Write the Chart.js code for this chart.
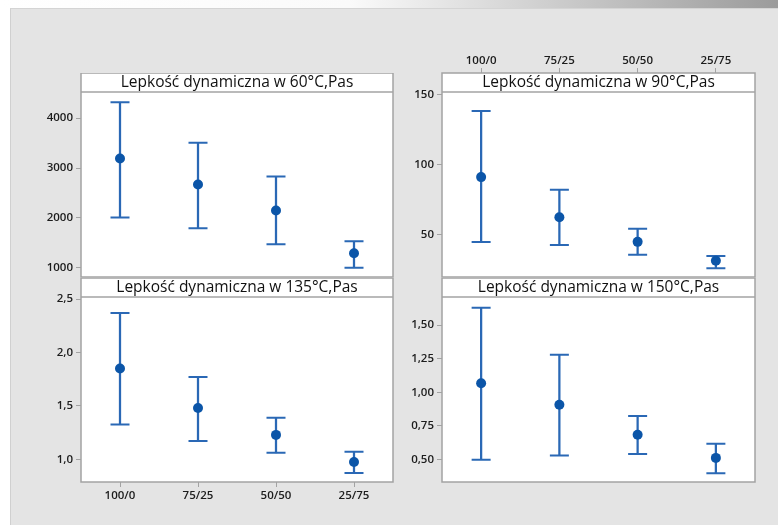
<!DOCTYPE html>
<html>
<head>
<meta charset="utf-8">
<script src="https://cdn.jsdelivr.net/npm/chart.js@4.4.0/dist/chart.umd.min.js"></script>
<style>
  html, body { margin: 0; padding: 0; background: #fff; }
  body { width: 778px; height: 525px; position: relative; overflow: hidden; }
  #shade { position: absolute; left: 0; top: 0; width: 778px; height: 8px;
           background: linear-gradient(to right, #fff 0%, #fafafa 45%, #9b9b9b 100%); }
  #sheet { position: absolute; left: 10px; top: 8px; right: 0; bottom: 0; background: #e4e4e4;
           border-left: 1px solid #d0d0d0; border-top: 1px solid #d4d4d4; }
  canvas { position: absolute; }
</style>
</head>
<body>
<div id="shade"></div>
<div id="sheet"></div>
<canvas id="p60" width="364" height="205" style="left:31px;top:73px"></canvas>
<canvas id="p90" width="365" height="233" style="left:392px;top:45px"></canvas>
<canvas id="p135" width="364" height="234" style="left:31px;top:278px"></canvas>
<canvas id="p150" width="365" height="205" style="left:392px;top:278px"></canvas>

<script>
// mieszanki (stosunek składników)
const categories = ['100/0', '75/25', '50/50', '25/75'];

// 60°C
const mean60  = [3190, 2670, 2150, 1290];
const upper60 = [4320, 3510, 2830, 1530];
const lower60 = [2010, 1790, 1470, 1000];
const ticks60 = [1000, 2000, 3000, 4000];
const range60 = [814, 4526];

// 90°C
const mean90  = [91.1, 62.3, 44.7, 31.1];
const upper90 = [138.4, 82.1, 54.0, 34.5];
const lower90 = [44.5, 42.4, 35.4, 25.7];
const ticks90 = [50, 100, 150];
const range90 = [19.5, 152.1];

// 135°C
const mean135  = [1.85, 1.48, 1.228, 0.975];
const upper135 = [2.369, 1.769, 1.388, 1.071];
const lower135 = [1.326, 1.172, 1.06, 0.872];
const ticks135 = [1.0, 1.5, 2.0, 2.5];
const range135 = [0.787, 2.519];

// 150°C
const mean150  = [1.067, 0.908, 0.685, 0.513];
const upper150 = [1.628, 1.28, 0.824, 0.619];
const lower150 = [0.5, 0.53, 0.542, 0.399];
const ticks150 = [0.5, 0.75, 1.0, 1.25, 1.5];
const range150 = [0.334, 1.708];

const HEADER = 19;
const LINE_COLOR = '#2a68b5';
const DOT_COLOR = '#0b55a8';
const FRAME_COLOR = '#a3a3a3';

Chart.defaults.font.family = "'Open Sans', 'DejaVu Sans', sans-serif";
Chart.defaults.font.size = 12;
Chart.defaults.color = '#1c1c1c';

// biała ramka panelu + pasek z tytułem nad obszarem wykresu
const panelFrame = {
  id: 'panelFrame',
  beforeDatasetsDraw(chart) {
    const { ctx, chartArea: a } = chart;
    ctx.save();
    ctx.fillStyle = '#fff';
    ctx.fillRect(a.left, a.top - HEADER, a.right - a.left, a.bottom - a.top + HEADER);
    ctx.restore();
  },
  afterDraw(chart, args, opts) {
    const { ctx, chartArea: a } = chart;
    ctx.save();
    ctx.strokeStyle = FRAME_COLOR;
    ctx.lineWidth = 1.5;
    ctx.strokeRect(a.left, a.top - HEADER, a.right - a.left, a.bottom - a.top + HEADER);
    ctx.beginPath();
    ctx.moveTo(a.left, a.top);
    ctx.lineTo(a.right, a.top);
    ctx.stroke();
    ctx.fillStyle = '#111';
    ctx.font = "15.5px 'Open Sans', sans-serif";
    ctx.textAlign = 'center';
    ctx.textBaseline = 'middle';
    ctx.fillText(opts.title, (a.left + a.right) / 2, a.top - HEADER / 2);
    ctx.restore();
  }
};

function fmt(v, decimals) {
  return v.toFixed(decimals).replace('.', ',');
}

function makePanel(id, p) {
  const xAxis = {
    type: 'category',
    offset: true,
    display: p.xPos !== null,
    position: p.xPos || 'bottom',
    grid: { drawOnChartArea: false, offset: false, color: FRAME_COLOR,
            tickLength: p.xPos === 'top' ? HEADER + 5 : 5 },
    border: { display: false },
    ticks: { padding: p.xPos === 'top' ? 0 : 2, maxRotation: 0, font: { size: 11.5, weight: '600' } },
    afterFit: s => {
      s.height = p.xPos === 'top' ? 47 : (p.xPos === 'bottom' ? 30 : 0);
      s.paddingLeft = 0;
      s.paddingRight = 0;
    }
  };
  const yAxis = {
    type: 'linear',
    min: p.range[0],
    max: p.range[1],
    grid: { drawOnChartArea: false, color: FRAME_COLOR, tickLength: 5 },
    border: { display: false },
    ticks: { padding: 3, font: { size: 11.5, weight: '600' }, callback: v => fmt(v, p.decimals) },
    afterBuildTicks: s => { s.ticks = p.ticks.map(v => ({ value: v })); },
    afterFit: s => {
      s.width = 50;
      s.paddingTop = 0;
      s.paddingBottom = 0;
    }
  };

  new Chart(document.getElementById(id), {
    type: 'bar',
    data: {
      labels: categories,
      datasets: [
        { type: 'line', data: p.mean, showLine: false, order: 0,
          pointStyle: 'circle', pointRadius: 5, pointHoverRadius: 5,
          pointBackgroundColor: DOT_COLOR, pointBorderWidth: 0 },
        { type: 'line', data: p.upper, showLine: false, order: 1,
          pointStyle: 'line', pointRadius: 9.5, pointHoverRadius: 9.5,
          pointBorderColor: LINE_COLOR, pointBorderWidth: 2 },
        { type: 'line', data: p.lower, showLine: false, order: 1,
          pointStyle: 'line', pointRadius: 9.5, pointHoverRadius: 9.5,
          pointBorderColor: LINE_COLOR, pointBorderWidth: 2 },
        { type: 'bar', data: p.lower.map((l, i) => [l, p.upper[i]]), order: 2,
          barThickness: 1.6, backgroundColor: LINE_COLOR, borderWidth: 0 }
      ]
    },
    options: {
      responsive: false,
      animation: false,
      events: [],
      layout: {
        autoPadding: false,
        padding: { top: p.xPos === 'top' ? 0 : HEADER, right: 2, bottom: p.xPos === 'bottom' ? 0 : 1, left: 0 }
      },
      plugins: {
        legend: { display: false },
        tooltip: { enabled: false },
        panelFrame: { title: p.title }
      },
      scales: { x: xAxis, y: yAxis }
    },
    plugins: [panelFrame]
  });
}

makePanel('p60', { title: 'Lepkość dynamiczna w 60°C,Pas', mean: mean60, upper: upper60, lower: lower60,
                   ticks: ticks60, range: range60, decimals: 0, xPos: null });
makePanel('p90', { title: 'Lepkość dynamiczna w 90°C,Pas', mean: mean90, upper: upper90, lower: lower90,
                   ticks: ticks90, range: range90, decimals: 0, xPos: 'top' });
makePanel('p135', { title: 'Lepkość dynamiczna w 135°C,Pas', mean: mean135, upper: upper135, lower: lower135,
                    ticks: ticks135, range: range135, decimals: 1, xPos: 'bottom' });
makePanel('p150', { title: 'Lepkość dynamiczna w 150°C,Pas', mean: mean150, upper: upper150, lower: lower150,
                    ticks: ticks150, range: range150, decimals: 2, xPos: null });
</script>
</body>
</html>
